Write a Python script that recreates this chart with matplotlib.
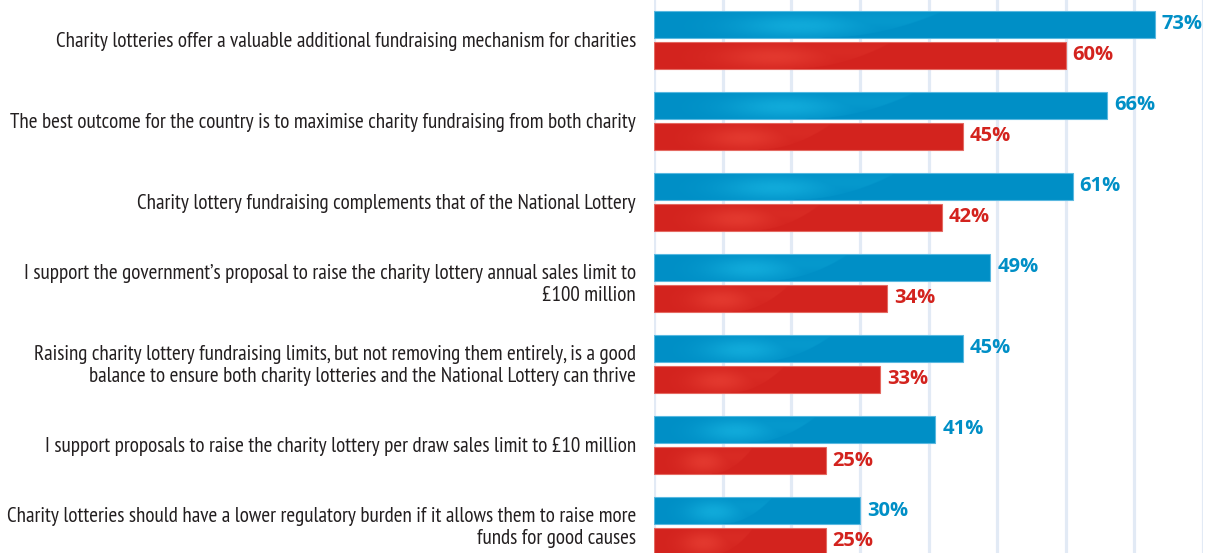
import matplotlib.pyplot as plt
import matplotlib.font_manager as fm
from matplotlib.colors import to_rgb
import numpy as np

statements = [
    "Charity lotteries offer a valuable additional fundraising mechanism for charities",
    "The best outcome for the country is to maximise charity fundraising from both charity",
    "Charity lottery fundraising complements that of the National Lottery",
    "I support the government\u2019s proposal to raise the charity lottery annual sales limit to\n\u00a3100 million",
    "Raising charity lottery fundraising limits, but not removing them entirely, is a good\nbalance to ensure both charity lotteries and the National Lottery can thrive",
    "I support proposals to raise the charity lottery per draw sales limit to \u00a310 million",
    "Charity lotteries should have a lower regulatory burden if it allows them to raise more\nfunds for good causes",
]
blue_vals = [73, 66, 61, 49, 45, 41, 30]
red_vals = [60, 45, 42, 34, 33, 25, 25]

blue = "#008fc6"
red = "#d3231e"
blue_hi = "#1ec0ea"
red_hi = "#f04a3c"

# pick a sans family that really has a normal-width bold face
value_font = "Liberation Sans"
for cand in ["Open Sans", "Noto Sans", "Lato", "Liberation Sans"]:
    if any(f.name == cand and f.stretch == "normal" and f.weight in (700, "bold")
           for f in fm.fontManager.ttflist):
        value_font = cand
        break

W, H = 1205, 553
fig = plt.figure(figsize=(W / 100, H / 100), dpi=100)
ax = fig.add_axes([654 / W, 0, (1203 - 654) / W, 1])

y = np.arange(len(statements))
bh = 27 / 81
off = 15.5 / 81

ax.set_xlim(0, 80)
ax.set_ylim((H - 40) / 81, -40 / 81)

b1 = ax.barh(y - off, blue_vals, height=bh, color=blue, edgecolor="#5ab8e0", linewidth=0.8, zorder=3)
b2 = ax.barh(y + off, red_vals, height=bh, color=red, edgecolor="#e46a62", linewidth=0.8, zorder=3)

# subtle gloss: soft glow plus a lighter band cut by a curved edge
gx = np.linspace(0, 1, 300)
gy = np.linspace(0, 1, 40)
GX, GY = np.meshgrid(gx, gy)
edge = 0.34 + 0.24 * np.sqrt(1 - GY)
mask = np.clip((edge - GX) / 0.008, 0, 1)
glow = np.exp(-((GX - 0.29) / 0.13) ** 2 - ((GY - 0.55) / 0.45) ** 2)
band = 0.35 * np.clip((GX - 0.12) / 0.2, 0, 1) * np.exp(-((GY - 0.35) / 0.4) ** 2)
light = mask * np.maximum(glow, band)
for bars, hi in ((b1, blue_hi), (b2, red_hi)):
    img = np.zeros((len(gy), len(gx), 4))
    img[..., :3] = to_rgb(hi)
    img[..., 3] = np.clip(light, 0, 1) * 0.55
    for p in bars.patches:
        x0, y0 = p.get_x(), p.get_y()
        w, h = p.get_width(), p.get_height()
        im = ax.imshow(img, extent=(x0, x0 + w, y0 + h, y0), origin="upper",
                       aspect="auto", zorder=3.5, interpolation="bilinear")
        im.set_clip_path(p)

for i in range(len(statements)):
    ax.text(blue_vals[i] + 1.0, y[i] - off, f"{blue_vals[i]}%", color=blue,
            fontsize=14.5, fontweight="bold", family=value_font, va="center", ha="left", zorder=4)
    ax.text(red_vals[i] + 1.0, y[i] + off, f"{red_vals[i]}%", color=red,
            fontsize=14.5, fontweight="bold", family=value_font, va="center", ha="left", zorder=4)

# category labels, sized so the first line spans the same width as the reference
labels = []
for i in range(len(statements)):
    t = ax.text(-2.62, y[i] + 0.02, statements[i], ha="right", va="center", fontsize=12,
                family="PT Sans Narrow", color="#231f20", linespacing=1.2, clip_on=False)
    labels.append(t)
fig.canvas.draw()
wpx = labels[0].get_window_extent().width
fs = 12 * 579 / wpx
for t in labels:
    t.set_fontsize(fs)

ax.set_xticks(np.arange(0, 81, 10))
ax.grid(axis="x", color="#e2eaf5", linewidth=2.3, zorder=0)
ax.tick_params(left=False, bottom=False, labelleft=False, labelbottom=False)
for s in ax.spines.values():
    s.set_visible(False)

fig.savefig("out.png", dpi=100)
